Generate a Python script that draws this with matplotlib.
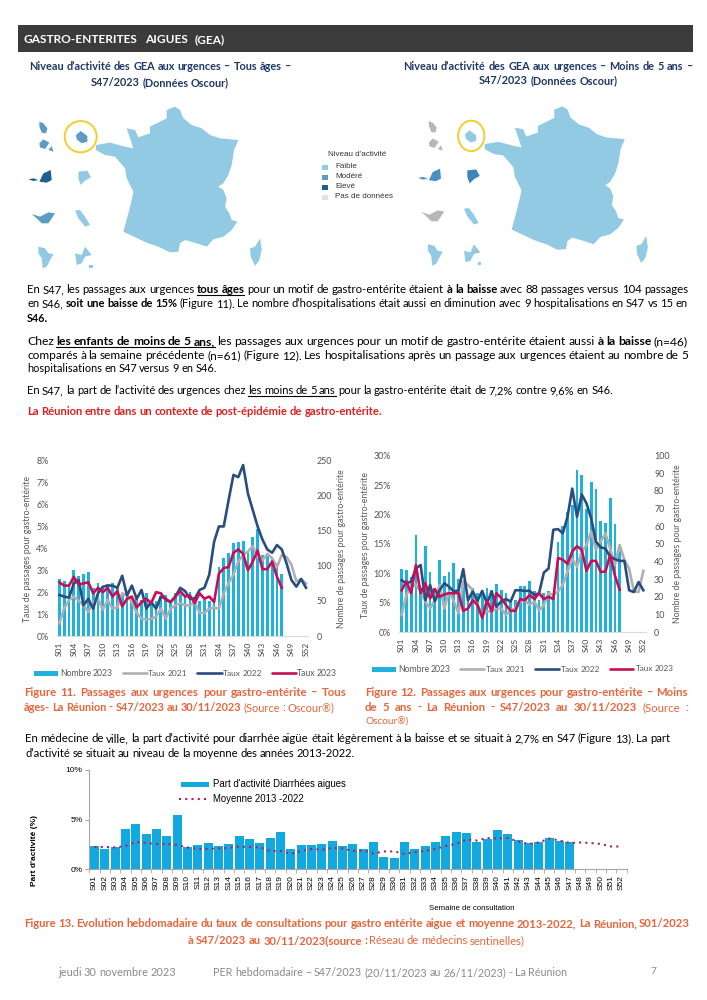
import matplotlib
matplotlib.use("Agg")
import matplotlib.pyplot as plt
from matplotlib.patches import Ellipse, Polygon, Rectangle

WIDTH = 707
HEIGHT = 1000
BODY_FONT = "Lato"
CHART_FONT = "Liberation Sans"

weeks = [f"S{i:02d}" for i in range(1, 53)]

# figure 11, all ages
count_all_2023 = [82, 78, 72, 94, 85, 88, 91, 68, 76, 70, 74, 76, 68, 60, 62, 55, 58, 52, 61, 48,
                  50, 57, 58, 52, 62, 60, 58, 63, 56, 50, 52, 50, 48, 98, 111, 119, 132, 134, 135, 121,
                  141, 153, 115, 118, 110, 104, 88]
rate_all_2021 = [0.58, 1.26, 1.64, 1.8, 1.6, 1.4, 1.1, 1.55, 1.7, 1.2, 1.65, 1.25, 1.3, 1.95, 1.85, 1.55,
                 1.05, 0.8, 0.75, 0.78, 0.88, 1.25, 0.8, 1.25, 1.4, 1.5, 1.4, 1.4, 1.55, 1.05, 1.05, 1.25,
                 1.3, 1.25, 1.95, 2.4, 2.8, 3.4, 3.7, 3.85, 4.1, 3.6, 3.45, 3.75, 3.55, 3.15, 3.7, 3.6,
                 3.25, 2.5, 2.6, 2.4]
rate_all_2022 = [1.87, 1.8, 1.75, 2.4, 2.55, 1.4, 1.7, 1.25, 1.95, 2.25, 2.3, 2.3, 2.2, 2.75, 1.85, 2.3,
                 1.7, 2.1, 1.25, 1.55, 1.25, 1.8, 1.7, 1.55, 1.8, 2.2, 2.05, 1.7, 1.7, 2.1, 2.2, 2.8,
                 4.3, 5.0, 5.0, 6.2, 7.35, 7.25, 7.8, 6.5, 5.75, 5.0, 4.4, 3.95, 3.8, 4.15, 3.95, 3.3,
                 2.55, 2.25, 2.6, 2.2]
rate_all_2023 = [2.45, 2.3, 2.3, 2.7, 2.35, 2.4, 2.45, 1.95, 2.2, 2.0, 2.2, 1.8, 2.05, 1.35, 1.7, 1.8,
                 1.3, 1.55, 1.7, 1.5, 2.0, 1.95, 1.65, 1.55, 1.8, 2.05, 1.8, 1.85, 1.5, 1.95, 1.7, 1.8,
                 1.55, 2.85, 3.1, 3.15, 3.8, 3.95, 3.75, 3.0, 3.4, 3.9, 3.05, 3.05, 3.4, 2.7, 2.2]

# figure 12, under 5
count_u5_2023 = [36, 35, 31, 55, 25, 49, 34, 25, 41, 32, 34, 39, 30, 29, 19, 25, 22, 22, 25, 24,
                 27, 24, 22, 17, 18, 26, 26, 29, 23, 18, 22, 23, 21, 51, 60, 68, 72, 92, 89, 70,
                 85, 81, 63, 62, 76, 61, 46]
rate_u5_2021 = [2.9, 6.3, 7.7, 8.0, 6.9, 5.2, 4.0, 5.4, 8.0, 4.0, 6.9, 5.2, 3.2, 8.6, 8.0, 7.1,
                4.6, 2.9, 3.5, 3.5, 4.0, 4.0, 2.9, 3.7, 4.0, 5.2, 5.4, 4.6, 5.2, 3.7, 4.6, 6.6,
                6.3, 6.9, 8.0, 10.3, 12.5, 11.1, 13.7, 14.8, 17.1, 14.0, 15.4, 16.8, 14.2, 11.4, 14.8, 12.3,
                10.8, 6.9, 6.8, 10.4]
rate_u5_2022 = [8.8, 8.3, 8.6, 10.8, 11.4, 5.4, 8.0, 5.2, 7.1, 8.3, 7.7, 6.9, 7.1, 10.7, 5.4, 6.9,
                5.3, 7.0, 4.9, 6.9, 4.3, 5.2, 5.6, 5.2, 7.1, 7.1, 7.0, 7.0, 6.3, 6.6, 10.1, 10.8,
                17.4, 17.5, 16.8, 19.6, 24.4, 19.6, 23.4, 21.9, 19.3, 15.4, 14.4, 14.2, 12.8, 12.4, 12.1, 12.1,
                7.1, 6.8, 8.5, 7.1]
rate_u5_2023 = [7.1, 8.6, 6.6, 11.4, 6.6, 8.3, 5.7, 7.3, 6.0, 6.4, 6.6, 6.6, 6.6, 3.6, 4.0, 5.4,
                4.6, 2.4, 5.4, 3.5, 6.6, 5.8, 4.6, 3.6, 3.6, 5.6, 5.4, 6.3, 5.6, 6.6, 5.6, 6.0,
                5.6, 12.6, 12.3, 11.6, 13.7, 14.6, 14.0, 10.4, 12.1, 12.1, 10.2, 10.3, 13.1, 9.6, 7.2]

# figure 13, sentinel network
share_diarrhea = [2.3, 2.0, 2.2, 4.1, 4.55, 3.6, 4.05, 3.4, 5.5, 2.2, 2.4, 2.6, 2.3, 2.5, 3.35, 3.05,
                  2.6, 3.2, 3.8, 2.0, 2.45, 2.4, 2.5, 2.8, 2.35, 2.55, 2.05, 2.7, 1.2, 1.1, 2.75, 2.0,
                  2.35, 2.75, 3.35, 3.8, 3.7, 2.7, 3.1, 4.0, 3.55, 2.95, 2.6, 2.7, 3.2, 2.9, 2.7]
mean_2013_2022 = [2.25, 2.25, 2.2, 2.35, 2.75, 2.65, 2.55, 2.55, 2.45, 2.2, 2.05, 2.05, 2.1, 2.15, 2.3, 2.25,
                  2.2, 1.85, 1.85, 1.55, 1.85, 2.05, 1.95, 2.15, 2.1, 1.85, 1.9, 1.6, 1.8, 1.8, 1.55, 1.75,
                  1.85, 2.05, 2.35, 2.55, 3.0, 2.9, 3.15, 3.1, 3.15, 2.8, 2.55, 2.7, 3.1, 2.9, 2.65, 2.7,
                  2.65, 2.55, 2.3, 2.3]

# map outlines, in the map's own coordinates
france = [(495, 170), (510, 180), (520, 205), (545, 225), (575, 235), (600, 255), (630, 265), (685, 270),
          (672, 300), (665, 345), (655, 375), (640, 400), (625, 410), (640, 420), (650, 445), (645, 470),
          (658, 490), (665, 510), (682, 515), (665, 540), (640, 560), (610, 568), (590, 590), (560, 580),
          (525, 570), (510, 580), (505, 605), (480, 607), (445, 590), (410, 578), (350, 550), (340, 545),
          (355, 490), (365, 450), (370, 425), (350, 385), (345, 355), (315, 320), (285, 315), (258, 300),
          (258, 285), (300, 278), (345, 290), (370, 295), (350, 235), (375, 240), (385, 262), (420, 250),
          (420, 230), (470, 205), (470, 180)]
corsica = [(750, 565), (755, 600), (748, 630), (735, 648), (722, 620), (720, 595), (735, 590)]
reunion = [(198, 255), (212, 243), (232, 258), (232, 275), (215, 280), (200, 268)]
mayotte = [[(88, 215), (100, 220), (112, 235), (108, 250), (95, 248), (88, 230)],
           [(88, 280), (100, 268), (118, 278), (105, 297), (90, 292)],
           [(115, 300), (125, 288), (130, 305)]]
guadeloupe = [[(88, 395), (100, 370), (122, 360), (125, 390), (110, 398)],
              [(55, 388), (70, 385), (85, 390), (70, 393)]]
guyane = [[(205, 365), (232, 362), (243, 382), (225, 392), (212, 405), (205, 385)]]
wave = [[(65, 492), (90, 500), (115, 487), (135, 490), (115, 520), (95, 520), (80, 505)]]
martinique = [[(195, 482), (210, 480), (225, 500), (240, 525), (225, 530), (205, 505)]]
bottom_left = [[(85, 590), (105, 595), (115, 610), (130, 612), (110, 650), (98, 655), (95, 625), (85, 610)]]
bottom_right = [[(195, 610), (215, 615), (225, 590), (245, 615), (225, 620), (215, 640), (200, 645)],
                [(237, 645), (248, 645), (248, 653), (237, 653)]]

COL_LOW = "#92c9e3"
COL_MED = "#5b9cc3"
COL_HIGH = "#1f5f8f"
COL_NONE = "#b7b7b7"

levels_all = {"mayotte": COL_MED, "reunion": COL_MED, "guadeloupe": COL_HIGH, "guyane": COL_LOW,
              "wave": COL_MED, "martinique": COL_LOW, "bottom_left": COL_LOW, "bottom_right": COL_LOW}
levels_u5 = {"mayotte": COL_NONE, "reunion": COL_LOW, "guadeloupe": "#4a8fc0", "guyane": "#3f86b8",
             "wave": COL_NONE, "martinique": COL_LOW, "bottom_left": COL_LOW, "bottom_right": COL_LOW}

fig = plt.figure(figsize=(WIDTH / 100, HEIGHT / 100), dpi=100, facecolor="white")
page = fig.add_axes([0, 0, 1, 1], zorder=0)
page.set_xlim(0, WIDTH)
page.set_ylim(HEIGHT, 0)
page.axis("off")
renderer = fig.canvas.get_renderer()


def px_axes(left, top, right, bottom, **kwargs):
    ax = fig.add_axes([left / WIDTH, 1 - bottom / HEIGHT, (right - left) / WIDTH, (bottom - top) / HEIGHT],
                      **kwargs)
    ax.patch.set_visible(False)
    return ax


def draw_line(runs, x0, x1, y, size=8.8, color="black", family=BODY_FONT):
    """Draw one line of text, with word gaps stretched so it spans x0 to x1."""
    words = []
    for run in runs:
        text, style = run[0], run[1]
        run_color = run[2] if len(run) > 2 else color
        for word in text.split():
            t = page.text(0, 0, word, fontsize=size, family=family, color=run_color, va="baseline",
                          fontweight="bold" if "b" in style else "normal")
            words.append((t, style, run_color))

    def widths():
        return [w[0].get_window_extent(renderer).width for w in words]

    # shrink the line when the font would not leave room for normal spaces
    needed = sum(widths()) + (len(words) - 1) * 0.3 * size
    if needed > x1 - x0:
        size = size * (x1 - x0) / needed
        for w in words:
            w[0].set_fontsize(size)

    sizes = widths()
    gap = 0
    if len(words) > 1:
        gap = (x1 - x0 - sum(sizes)) / (len(words) - 1)
    x = x0
    base = round(y + size * 0.42)
    for i, ((t, style, run_color), w) in enumerate(zip(words, sizes)):
        t.set_position((x, base))
        if "u" in style:
            end = x + w
            if i + 1 < len(words) and "u" in words[i + 1][1]:
                end += gap
            page.plot([x, end], [base + 2, base + 2], color=run_color, lw=0.8)
        x += w + gap


def draw_map(ax, levels, halo_w, halo_h, halo_x):
    ax.set_xlim(50, 770)
    ax.set_ylim(660, 165)
    ax.axis("off")
    for shape in (france, corsica):
        ax.add_patch(Polygon(shape, closed=True, fc=COL_LOW, ec="none"))
    ax.add_patch(Polygon(reunion, closed=True, fc=levels["reunion"], ec="none"))
    groups = {"mayotte": mayotte, "guadeloupe": guadeloupe, "guyane": guyane, "wave": wave,
              "martinique": martinique, "bottom_left": bottom_left, "bottom_right": bottom_right}
    for name, shapes in groups.items():
        for shape in shapes:
            ax.add_patch(Polygon(shape, closed=True, fc=levels[name], ec="none"))
    ax.add_patch(Ellipse((halo_x, 260), halo_w, halo_h, fc="none", ec="#f2cf2e", lw=1.4))


def draw_legend(items, y, size=6.7):
    for kind, color, x0, x1, label, tx0, tx1 in items:
        if kind == "bar":
            page.add_patch(Rectangle((x0, y - 2.5), x1 - x0, 5, fc=color, ec="none"))
        else:
            page.plot([x0, x1], [y, y], color=color, lw=1.9, solid_capstyle="round")
        draw_line([(label, "")], tx0, tx1, y, size=size, color="#595959")


def draw_rate_chart(box, counts, rate_21, rate_22, rate_23, count_max, count_ticks, rate_max, rate_ticks):
    ax_count = px_axes(*box, zorder=2)
    ax_count.bar(range(len(counts)), counts, width=0.58, color="#1fb2de")
    ax_count.set_xlim(-0.5, 51.5)
    ax_count.set_ylim(0, count_max)
    ax_count.set_xticks(range(0, 52, 3))
    ax_count.set_xticklabels(weeks[::3], rotation=90, family=BODY_FONT, color="#404040")
    for spine in ("top", "left", "right"):
        ax_count.spines[spine].set_visible(False)
    ax_count.spines["bottom"].set_color("#d9d9d9")

    ax_rate = ax_count.twinx()
    ax_rate.plot(range(len(rate_21)), rate_21, color="#aeb0b3", lw=1.9)
    ax_rate.plot(range(len(rate_22)), rate_22, color="#2a4d80", lw=1.9)
    ax_rate.plot(range(len(rate_23)), rate_23, color="#c70f58", lw=1.9)
    ax_rate.set_ylim(0, rate_max)
    ax_rate.set_yticks(rate_ticks)
    ax_rate.set_yticklabels([f"{v}%" for v in rate_ticks], family=BODY_FONT)
    ax_rate.yaxis.tick_left()
    ax_rate.tick_params(axis="y", length=0, labelsize=6.4, labelcolor="#505050", pad=6)
    ax_rate.patch.set_visible(False)
    for spine in ax_rate.spines.values():
        spine.set_visible(False)

    # twinx puts the host's ticks on the left, so set these last
    ax_count.set_yticks(count_ticks)
    ax_count.set_yticklabels([str(v) for v in count_ticks], family=BODY_FONT)
    ax_count.yaxis.tick_right()
    ax_count.tick_params(axis="y", length=0, labelsize=6.4, labelcolor="#505050", pad=6)
    ax_count.tick_params(axis="x", length=0, labelsize=6, pad=4)


# header band and map titles
page.add_patch(Rectangle((18, 25), 675, 27, fc="#3b3b3b", ec="none"))
draw_line([("GASTRO-ENTERITES AIGUES (GEA)", "b")], 24, 225, 39, size=8.6, color="white")
NAVY = "#1f3864"
draw_line([("Niveau d’activité des GEA aux urgences – Tous âges –", "b")], 29, 291, 67, size=7.8, color=NAVY)
draw_line([("S47/2023 (Données Oscour)", "b")], 91, 229, 83, size=7.8, color=NAVY)
draw_line([("Niveau d’activité des GEA aux urgences – Moins de 5 ans –", "b")], 403, 693, 67, size=7.8, color=NAVY)
draw_line([("S47/2023 (Données Oscour)", "b")], 479, 618, 81, size=7.8, color=NAVY)

# maps
draw_map(px_axes(26.7, 105, 266.7, 270), levels_all, 96, 94, 212)
draw_map(px_axes(416.4, 104.7, 652.8, 267.2), levels_u5, 80, 93, 217)

# map legend
page.text(357, 154, "Niveau d'activité", ha="center", va="center", fontsize=5.8, family=CHART_FONT, color="#333333")
legend_levels = [("Faible", COL_LOW), ("Modéré", COL_MED), ("Elevé", COL_HIGH), ("Pas de données", "#e3e3e3")]
for i, (name, color) in enumerate(legend_levels):
    y = 167 + i * 10
    page.add_patch(Rectangle((322, y - 2.5), 5.5, 5.5, fc=color, ec="none"))
    page.text(335, y, name, va="center", fontsize=5.8, family=CHART_FONT, color="#333333")

# body text
draw_line([("En S47, les passages aux urgences", ""), ("tous âges", "bu"),
           ("pour un motif de gastro-entérite étaient", ""), ("à la baisse", "b"),
           ("avec 88 passages versus 104 passages", "")], 27, 688, 290)
draw_line([("en S46,", ""), ("soit une baisse de 15%", "b"),
           ("(Figure 11). Le nombre d’hospitalisations était aussi en diminution avec 9 hospitalisations en S47 vs 15 en", "")],
          27, 688, 304)
draw_line([("S46.", "b")], 27, 48, 319)
draw_line([("Chez", ""), ("les enfants de moins de 5 ans,", "bu"),
           ("les passages aux urgences pour un motif de gastro-entérite étaient aussi", ""),
           ("à la baisse", "b"), ("(n=46)", "")], 27, 688, 341)
draw_line([("comparés à la semaine précédente (n=61) (Figure 12). Les hospitalisations après un passage aux urgences étaient au nombre de 5", "")],
          27, 688, 355)
draw_line([("hospitalisations en S47 versus 9 en S46.", "")], 27, 217, 369)
draw_line([("En S47, la part de l’activité des urgences chez", ""), ("les moins de 5 ans", "u"),
           ("pour la gastro-entérite était de 7,2% contre 9,6% en S46.", "")], 27, 613, 391)
draw_line([("La Réunion entre dans un contexte de post-épidémie de gastro-entérite.", "b")], 27, 382, 412,
          color="#e02020")

# figures 11 and 12
draw_rate_chart((56.9, 460.7, 308.4, 636), count_all_2023, rate_all_2021, rate_all_2022, rate_all_2023,
                250, [0, 50, 100, 150, 200, 250], 8, list(range(9)))
draw_rate_chart((399.3, 455.7, 645.7, 632), count_u5_2023, rate_u5_2021, rate_u5_2022, rate_u5_2023,
                100, list(range(0, 101, 10)), 30, list(range(0, 31, 5)))

axis_labels = [(28, 549, "Taux de passages pour gastro-entérite"),
               (341, 549, "Nombre de passages pour gastro-entérite"),
               (366, 545, "Taux de passages pour gastro-entérite"),
               (678, 544, "Nombre de passages pour gastro-entérite")]
for x, y, label in axis_labels:
    page.text(x, y, label, rotation=90, ha="center", va="center", fontsize=6.2, family=BODY_FONT, color="#595959")

draw_legend([("bar", "#1fb2de", 34, 58, "Nombre 2023", 60, 113), ("line", "#aeb0b3", 123, 147, "Taux 2021", 148, 187),
             ("line", "#2a4d80", 197, 222, "Taux 2022", 223, 262), ("line", "#c70f58", 272, 296, "Taux 2023", 297, 337)], 673)
draw_legend([("bar", "#1fb2de", 372, 396, "Nombre 2023", 398, 451), ("line", "#aeb0b3", 460, 484, "Taux 2021", 486, 525),
             ("line", "#2a4d80", 535, 559, "Taux 2022", 561, 600), ("line", "#c70f58", 610, 633, "Taux 2023", 636, 674)], 669)

# captions
ORANGE = "#e8643a"
draw_line([("Figure 11. Passages aux urgences pour gastro-entérite – Tous", "b")], 24, 347, 693, size=8.2, color=ORANGE)
draw_line([("âges- La Réunion - S47/2023 au 30/11/2023", "b"), ("(Source : Oscour®)", "")], 24, 334, 708, size=8.2, color=ORANGE)
draw_line([("Figure 12. Passages aux urgences pour gastro-entérite – Moins", "b")], 365, 688, 693, size=8.2, color=ORANGE)
draw_line([("de 5 ans - La Réunion - S47/2023 au 30/11/2023", "b"), ("(Source :", "")], 365, 688, 708, size=8.2, color=ORANGE)
draw_line([("Oscour®)", "")], 365, 408, 722, size=8.2, color=ORANGE)
draw_line([("En médecine de ville, la part d’activité pour diarrhée aigüe était légèrement à la baisse et se situait à 2,7% en S47 (Figure 13). La part", "")],
          25, 670, 739)
draw_line([("d’activité se situait au niveau de la moyenne des années 2013-2022.", "")], 25, 355, 754)

# figure 13
ax_share = px_axes(89.3, 770, 626.7, 869.3, zorder=2)
ax_share.bar(range(len(share_diarrhea)), share_diarrhea, width=0.86, color="#12a9e0")
ax_share.plot(range(len(mean_2013_2022)), mean_2013_2022, color="#b0205f", lw=1.5, linestyle=(0, (1, 2)))
ax_share.set_xlim(-0.5, 51.5)
ax_share.set_ylim(0, 10)
ax_share.set_yticks([0, 5, 10])
ax_share.set_yticklabels(["0%", "5%", "10%"], family=CHART_FONT, fontsize=6)
ax_share.set_xticks([i - 0.5 for i in range(53)], minor=True)
ax_share.set_xticks(range(52))
ax_share.set_xticklabels(weeks, rotation=90, family=CHART_FONT, fontsize=6)
ax_share.tick_params(axis="x", which="major", length=0, pad=4)
ax_share.tick_params(axis="x", which="minor", length=3, color="#a6a6a6")
ax_share.tick_params(axis="y", length=3, color="#a6a6a6", pad=2)
for spine in ("top", "right"):
    ax_share.spines[spine].set_visible(False)
for spine in ("left", "bottom"):
    ax_share.spines[spine].set_color("#a6a6a6")
page.text(35, 851, "Part d'activité (%)", rotation=90, ha="center", va="center", fontsize=6,
          fontweight="bold", family=CHART_FONT)
page.add_patch(Rectangle((181, 782), 28, 4.5, fc="#12a9e0", ec="none"))
page.plot([179, 209], [799, 799], color="#b0205f", lw=1.5, linestyle=(0, (1, 2)))
page.text(213, 784, "Part d'activité Diarrhées aigues", va="center", fontsize=6.9, family=CHART_FONT)
page.text(213, 799, "Moyenne 2013 -2022", va="center", fontsize=6.9, family=CHART_FONT)
page.text(472, 909, "Semaine de consultation", ha="center", va="center", fontsize=5.6, family=CHART_FONT)

draw_line([("Figure 13. Evolution hebdomadaire du taux de consultations pour gastro entérite aigue et moyenne 2013-2022, La Réunion, S01/2023", "b")],
          24, 690, 924, size=8.2, color=ORANGE)
draw_line([("à S47/2023 au 30/11/2023(source :", "b"), ("Réseau de médecins sentinelles)", "")], 188, 525, 941, size=8.2, color=ORANGE)

# footer
GREY = "#8a8a8a"
draw_line([("jeudi 30 novembre 2023", "")], 58, 176, 973, size=8, color=GREY)
draw_line([("PER hebdomadaire – S47/2023 (20/11/2023 au 26/11/2023) - La Réunion", "")], 213, 567, 973, size=8, color=GREY)
draw_line([("7", "")], 650, 656, 971, size=8, color=GREY)

fig.savefig("out.png", dpi=100)
plt.close(fig)
